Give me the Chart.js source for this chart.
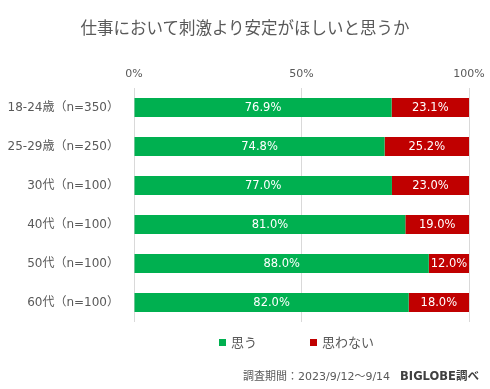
<!DOCTYPE html>
<html><head><meta charset="utf-8">
<script src="https://cdn.jsdelivr.net/npm/chart.js@4"></script>
<style>
html,body{margin:0;padding:0;background:#fff;}
#wrap{position:relative;width:490px;height:389px;overflow:hidden;font-family:"DejaVu Sans","Noto Sans CJK JP",sans-serif;}
#title{position:absolute;left:0;top:15px;width:490px;text-align:center;font-size:16.5px;color:#595959;font-family:"Noto Sans CJK JP",sans-serif;}
#chartBox{position:absolute;left:0;top:0;width:490px;height:389px;}
#legend{position:absolute;top:333px;left:0;width:490px;height:18px;font-size:13px;color:#595959;font-family:"Noto Sans CJK JP",sans-serif;}
.li{position:absolute;top:0;line-height:18px;white-space:nowrap;}
.sw{display:inline-block;width:7px;height:7px;margin-right:5px;vertical-align:middle;position:relative;top:-1px;}
#foot{position:absolute;top:367px;left:243px;font-size:11px;color:#595959;white-space:nowrap;}
#foot b{font-size:11.5px;color:#404040;margin-left:10px;font-family:"DejaVu Sans","Noto Sans CJK JP",sans-serif;}
</style></head>
<body><div id="wrap">
<div id="chartBox"><canvas id="c" width="490" height="389"></canvas></div>
<div id="title">仕事において刺激より安定がほしいと思うか</div>
<div id="legend"></div>
<div id="foot">調査期間：2023/9/12～9/14<b>BIGLOBE調べ</b></div>
</div>
<script>
const categories = ["18-24歳（n=350）","25-29歳（n=250）","30代（n=100）","40代（n=100）","50代（n=100）","60代（n=100）"];
const seriesNames = ["思う","思わない"];
const omou = [76.9, 74.8, 77.0, 81.0, 88.0, 82.0];
const omowanai = [23.1, 25.2, 23.0, 19.0, 12.0, 18.0];
const xTicks = [0, 50, 100];
const colors = ["#00B050","#C00000"];

const labelPlugin = {
  id:'barLabels',
  afterDatasetsDraw(chart){
    const ctx = chart.ctx;
    ctx.save();
    ctx.font = '11.5px "DejaVu Sans", sans-serif';
    ctx.fillStyle = '#ffffff';
    ctx.textAlign = 'center';
    ctx.textBaseline = 'middle';
    chart.data.datasets.forEach((ds, di) => {
      const meta = chart.getDatasetMeta(di);
      meta.data.forEach((bar, i) => {
        const x = (bar.x + bar.base) / 2;
        ctx.fillText(ds.data[i].toFixed(1) + '%', x, bar.y + 0.5);
      });
    });
    ctx.restore();
  }
};

new Chart(document.getElementById('c'), {
  type: 'bar',
  data: {
    labels: categories,
    datasets: [
      {label: seriesNames[0], data: omou, backgroundColor: colors[0], borderWidth: 0},
      {label: seriesNames[1], data: omowanai, backgroundColor: colors[1], borderWidth: 0}
    ]
  },
  options: {
    indexAxis: 'y',
    responsive: false,
    animation: false,
    devicePixelRatio: 1,
    layout: {padding: {left: 0, right: 21, top: 60, bottom: 67}},
    plugins: {legend: {display: false}, tooltip: {enabled: false}, title: {display: false}},
    datasets: {bar: {categoryPercentage: 1.0, barPercentage: 0.49}},
    scales: {
      x: {
        position: 'top', stacked: true, min: 0, max: 100,
        afterBuildTicks(scale){ scale.ticks = xTicks.map(v => ({value: v})); },
        afterFit(scale){ scale.height = 28; scale.paddingLeft = 0; scale.paddingRight = 0; },
        grid: {color: '#d9d9d9', drawTicks: false, lineWidth: 1},
        border: {display: false},
        ticks: {padding: 7, color: '#595959', font: {size: 11, family: '"DejaVu Sans", sans-serif'}, callback: v => v + '%'}
      },
      y: {
        stacked: true,
        afterFit(scale){ scale.width = 134; },
        grid: {display: false, drawTicks: false},
        border: {display: false},
        ticks: {padding: 15, color: '#595959', font: {size: 12, family: '"DejaVu Sans","Noto Sans CJK JP", sans-serif'}}
      }
    }
  },
  plugins: [labelPlugin]
});

const lg = document.getElementById('legend');
const lpos = [219, 310];
seriesNames.forEach((n, i) => {
  const d = document.createElement('div');
  d.className = 'li';
  d.style.left = lpos[i] + 'px';
  d.innerHTML = '<span class="sw" style="background:' + colors[i] + '"></span>' + n;
  lg.appendChild(d);
});
</script>
</body></html>
